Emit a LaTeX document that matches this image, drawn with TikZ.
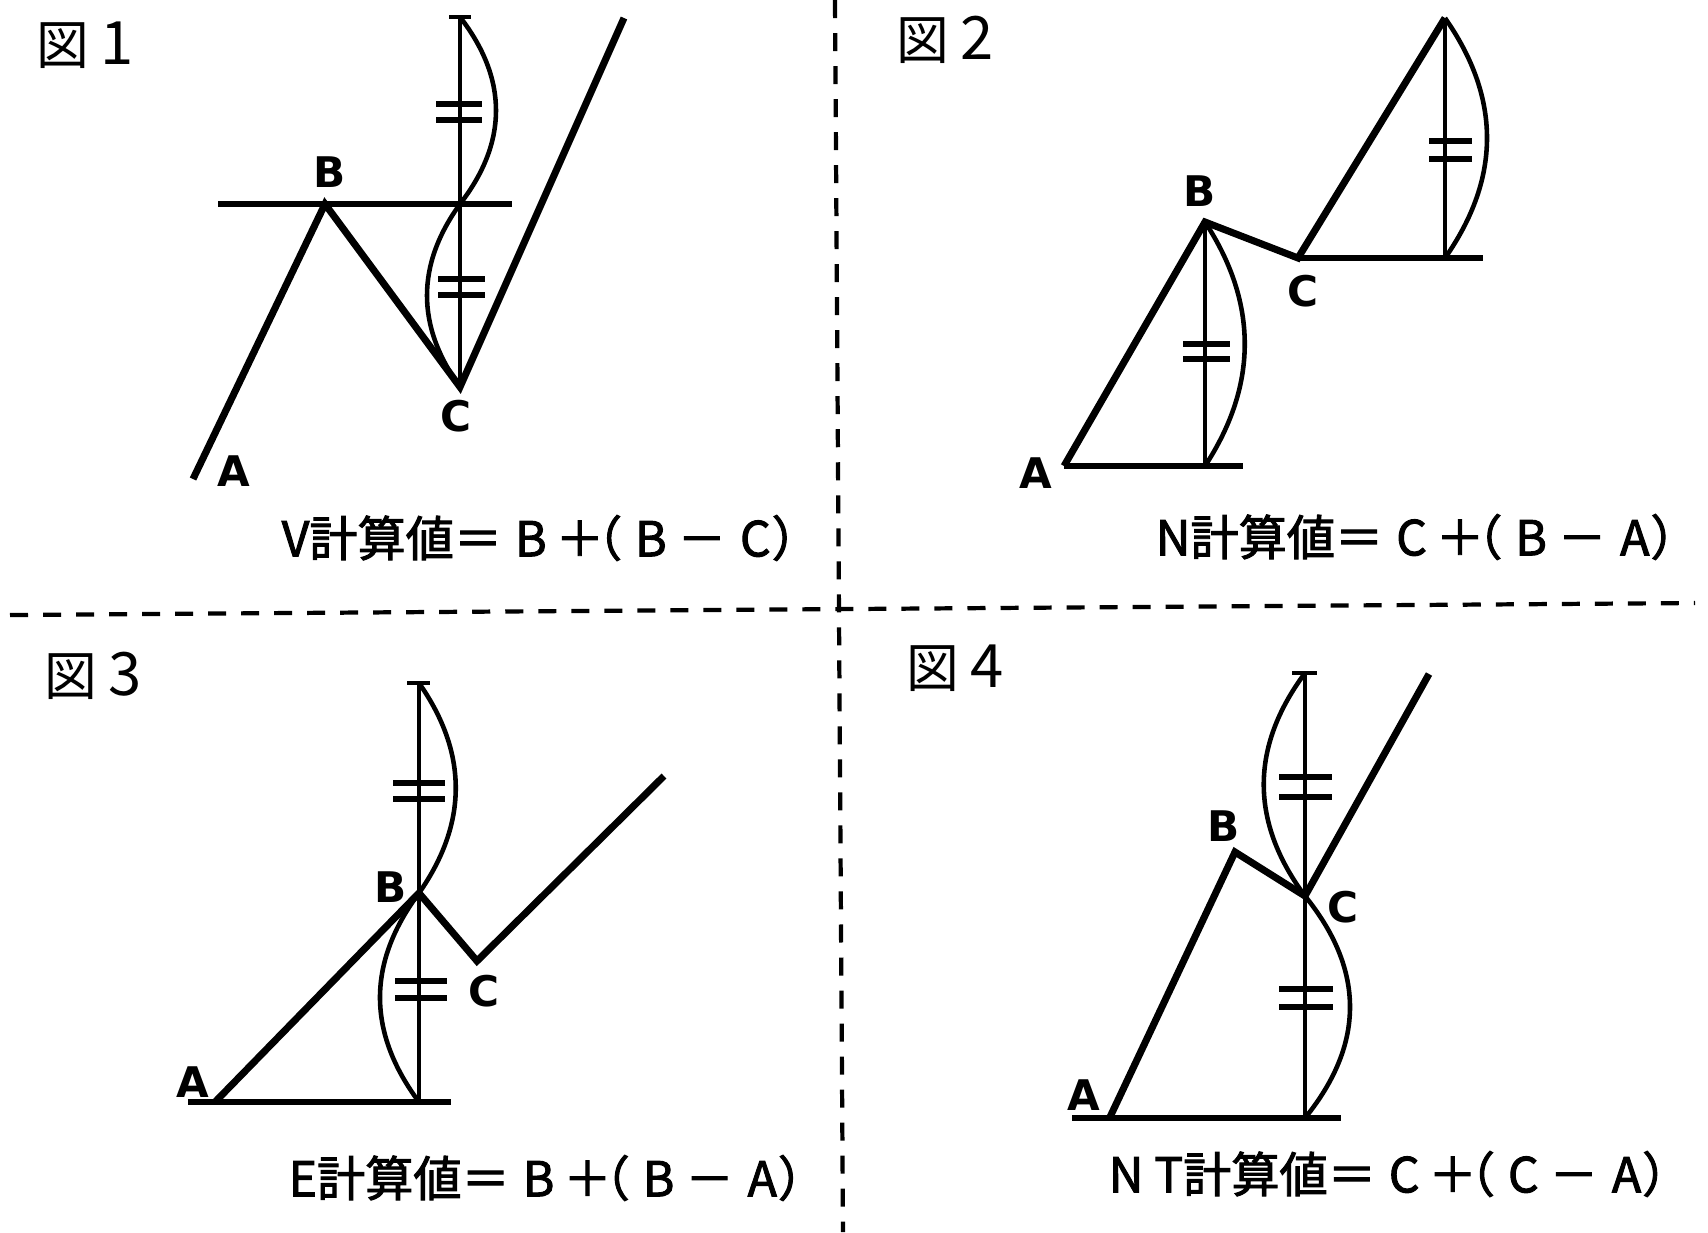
\documentclass[tikz,border=0pt]{standalone}
\usepackage{fontspec}
\newfontfamily\jfont{Noto Sans CJK JP}
\newfontfamily\jform[FakeBold=2]{Noto Sans CJK JP}
\newfontfamily\lblfont{DejaVu Sans}
\usetikzlibrary{positioning}
\newcommand{\keisan}[4]{#1計算値＝\hspace{1.3mm}#2\hspace{0.9mm}＋\hspace{-3mm}（\hspace{1.3mm}#3\hspace{1.1mm}－\hspace{1.4mm}#4\hspace{0.1mm}）}
\newcommand{\zu}[1]{図 {\fontsize{17}{18}\selectfont #1}}

\begin{document}
\begin{tikzpicture}[x=0.01cm,y=-0.01cm,
  wave/.style={line width=2pt},
  level/.style={line width=1.6pt},
  meas/.style={line width=1.4pt},
  arcline/.style={line width=1.3pt},
  tick/.style={line width=1.5pt},
  divider/.style={line width=1.2pt,dash pattern=on 0.18cm off 0.15cm},
  vlabel/.style={font=\lblfont\bfseries\fontsize{12}{14}\selectfont,inner sep=0pt},
  figtitle/.style={font=\jfont\fontsize{15}{18}\selectfont,inner sep=0pt},
  formula/.style={font=\jform\fontsize{13.7}{16}\selectfont,inner sep=0pt,anchor=west}]
 \useasboundingbox (0,0) rectangle (1708,1232);
 \draw[divider] (10,615) -- (1695,603);
 \draw[divider] (835,0) -- (843,1232);
 % 図1
 \node[figtitle] (t1) at (85,45) {\zu{1}};
 \coordinate (A1) at (193,479);
 \coordinate (B1) at (325,204);
 \coordinate (C1) at (460,387);
 \coordinate (E1) at (624,18);
 \coordinate (T1) at (460,17);
 \coordinate (M1) at (460,204);
 \draw[wave] (A1)--(B1)--(C1)--(E1);
 \draw[level] (218,204)--(512,204);
 \draw[meas] (T1)--(C1);
 \draw[meas] (449,17)--(471,17);
 \draw[arcline] (T1) .. controls +(48,62) and +(48,-62) .. (M1);
 \draw[arcline] (M1) .. controls +(-44,61) and +(-44,-61) .. (C1);
 \draw[tick] (436,104)--(482,104) (436,120)--(482,120);
 \draw[tick] (438,279)--(485,279) (438,295)--(485,295);
 \node[vlabel] (a1) at (234,471) {A};
 \node[vlabel] (b1) at (330,172) {B};
 \node[vlabel] (c1) at (456,416) {C};
 \node[formula] (f1) at (281,538) {\keisan{V}{B}{B}{C}};
 % 図2
 \node[figtitle] (t2) at (945,40) {\zu{2}};
 \coordinate (A2) at (1064,466);
 \coordinate (B2) at (1205,222);
 \coordinate (C2) at (1298,258);
 \coordinate (E2) at (1445,18);
 \coordinate (F2) at (1205,466);
 \coordinate (G2) at (1445,258);
 \draw[wave] (A2)--(B2)--(C2)--(E2);
 \draw[level] (A2)--(1243,466);
 \draw[level] (C2)--(1483,258);
 \draw[meas] (B2)--(F2);
 \draw[meas] (E2)--(G2);
 \draw[arcline] (B2) .. controls +(53,81) and +(53,-81) .. (F2);
 \draw[arcline] (E2) .. controls +(56,80) and +(56,-80) .. (G2);
 \draw[tick] (1183,344)--(1230,344) (1183,359)--(1230,359);
 \draw[tick] (1429,141)--(1472,141) (1429,159)--(1472,159);
 \node[vlabel] (a2) at (1036,473) {A};
 \node[vlabel] (b2) at (1200,191) {B};
 \node[vlabel] (c2) at (1303,291) {C};
 \node[formula] (f2) at (1155,537) {\keisan{N}{C}{B}{A}};
 % 図3
 \node[figtitle] (t3) at (93,676) {\zu{3}};
 \coordinate (A3) at (215,1102);
 \coordinate (B3) at (419,893);
 \coordinate (C3) at (477,961);
 \coordinate (E3) at (664,776);
 \coordinate (T3) at (419,683);
 \coordinate (F3) at (419,1102);
 \draw[wave] (A3)--(B3)--(C3)--(E3);
 \draw[level] (188,1102)--(451,1102);
 \draw[meas] (T3)--(F3);
 \draw[meas] (407,683)--(430,683);
 \draw[arcline] (T3) .. controls +(49,70) and +(49,-70) .. (B3);
 \draw[arcline] (B3) .. controls +(-52,70) and +(-52,-70) .. (F3);
 \draw[tick] (393,783)--(445,783) (393,799)--(445,799);
 \draw[tick] (395,981)--(447,981) (395,998)--(447,998);
 \node[vlabel] (a3) at (193,1082) {A};
 \node[vlabel] (b3) at (391,887) {B};
 \node[vlabel] (c3) at (484,991) {C};
 \node[formula] (f3) at (288,1178) {\keisan{E}{B}{B}{A}};
 % 図4
 \node[figtitle] (t4) at (955,668) {\zu{4}};
 \coordinate (A4) at (1110,1117);
 \coordinate (B4) at (1235,852);
 \coordinate (C4) at (1305,896);
 \coordinate (E4) at (1429,674);
 \coordinate (T4) at (1305,673);
 \coordinate (F4) at (1305,1118);
 \draw[wave] (A4)--(B4)--(C4)--(E4);
 \draw[level] (1072,1118)--(1341,1118);
 \draw[meas] (T4)--(F4);
 \draw[meas] (1292,673)--(1317,673);
 \draw[arcline] (T4) .. controls +(-55,74) and +(-55,-74) .. (C4);
 \draw[arcline] (C4) .. controls +(60,74) and +(60,-74) .. (F4);
 \draw[tick] (1279,777)--(1332,777) (1279,797)--(1332,797);
 \draw[tick] (1279,989)--(1333,989) (1279,1007)--(1333,1007);
 \node[vlabel] (a4) at (1084,1095) {A};
 \node[vlabel] (b4) at (1224,826) {B};
 \node[vlabel] (c4) at (1343,907) {C};
 \node[formula] (f4) at (1108,1174) {\keisan{N T}{C}{C}{A}};
\end{tikzpicture}
\end{document}
